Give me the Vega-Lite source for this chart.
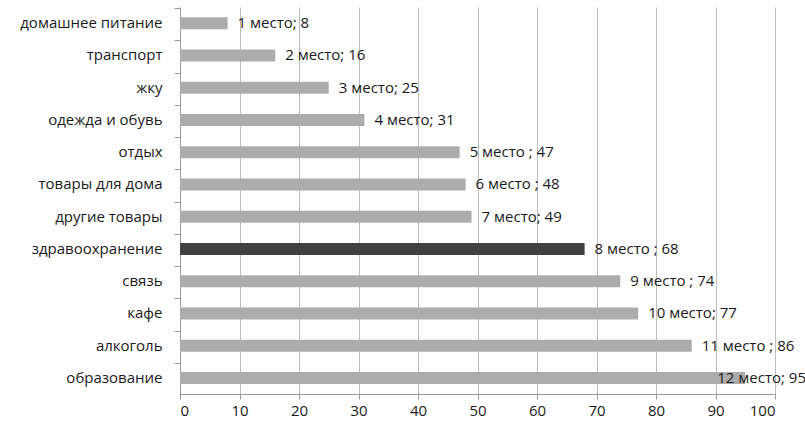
{
  "$schema": "https://vega.github.io/schema/vega-lite/v6.json",
  "width": 595,
  "height": 387,
  "autosize": "none",
  "padding": {"left": 180, "top": 7, "right": 30, "bottom": 31},
  "background": "white",
  "config": {
    "view": {"stroke": null},
    "font": "Open Sans"
  },
  "data": {
    "values": [
      {"cat": "домашнее питание\u00a0", "rank": 1, "value": 8, "label": "1 место; 8", "hl": "n"},
      {"cat": "транспорт", "rank": 2, "value": 16, "label": "2 место; 16", "hl": "n"},
      {"cat": "жку", "rank": 3, "value": 25, "label": "3 место; 25", "hl": "n"},
      {"cat": "одежда и обувь", "rank": 4, "value": 31, "label": "4 место; 31", "hl": "n"},
      {"cat": "отдых", "rank": 5, "value": 47, "label": "5 место ; 47", "hl": "n"},
      {"cat": "товары для дома\u00a0\u00a0", "rank": 6, "value": 48, "label": "6 место ; 48", "hl": "n"},
      {"cat": "другие  товары", "rank": 7, "value": 49, "label": "7 место; 49", "hl": "n"},
      {"cat": "здравоохранение\u00a0", "rank": 8, "value": 68, "label": "8 место ; 68", "hl": "y"},
      {"cat": "связь", "rank": 9, "value": 74, "label": "9 место ; 74", "hl": "n"},
      {"cat": "кафе", "rank": 10, "value": 77, "label": "10 место; 77", "hl": "n"},
      {"cat": "алкоголь\u00a0", "rank": 11, "value": 86, "label": "11 место ; 86", "hl": "n"},
      {"cat": "образование", "rank": 12, "value": 95, "label": "12 место; 95", "hl": "n"}
    ]
  },
  "encoding": {
    "y": {
      "field": "cat", "type": "nominal",
      "sort": ["домашнее питание\u00a0", "транспорт", "жку", "одежда и обувь", "отдых", "товары для дома\u00a0\u00a0", "другие  товары", "здравоохранение\u00a0", "связь", "кафе", "алкоголь\u00a0", "образование"],
      "title": null,
      "axis": {"bandPosition": 0, "tickSize": 6, "labelPadding": 12, "grid": false, "domain": true, "ticks": true, "labelFont": "Open Sans", "labelFontSize": 15, "labelColor": "#1a1a1a", "domainColor": "#9a9a9a", "tickColor": "#9a9a9a"}
    }
  },
  "layer": [
    {
      "mark": {"type": "bar", "size": 12},
      "encoding": {
        "x": {
          "field": "value", "type": "quantitative",
          "scale": {"domain": [0, 100], "nice": false},
          "title": null,
          "axis": {"values": [0,10,20,30,40,50,60,70,80,90,100], "grid": true, "gridColor": "#bdbdbd", "tickSize": 5, "labelPadding": 4, "domain": true, "domainColor": "#9a9a9a", "tickColor": "#9a9a9a", "labelFont": "Open Sans", "labelFontSize": 15, "labelColor": "#1a1a1a"}
        },
        "color": {"field": "hl", "type": "nominal", "scale": {"domain": ["n", "y"], "range": ["#acacac", "#404040"]}, "legend": null}
      }
    },
    {
      "transform": [{"filter": "datum.rank < 12"}],
      "mark": {"type": "text", "align": "left", "baseline": "middle", "dx": 10, "fontSize": 15, "font": "Open Sans", "color": "#1a1a1a"},
      "encoding": {
        "x": {"field": "value", "type": "quantitative"},
        "text": {"field": "label"}
      }
    },
    {
      "transform": [{"filter": "datum.rank == 12"}],
      "mark": {"type": "text", "align": "left", "baseline": "middle", "dx": -28, "fontSize": 15, "font": "Open Sans", "color": "#1a1a1a"},
      "encoding": {
        "x": {"field": "value", "type": "quantitative"},
        "text": {"field": "label"}
      }
    }
  ]
}
